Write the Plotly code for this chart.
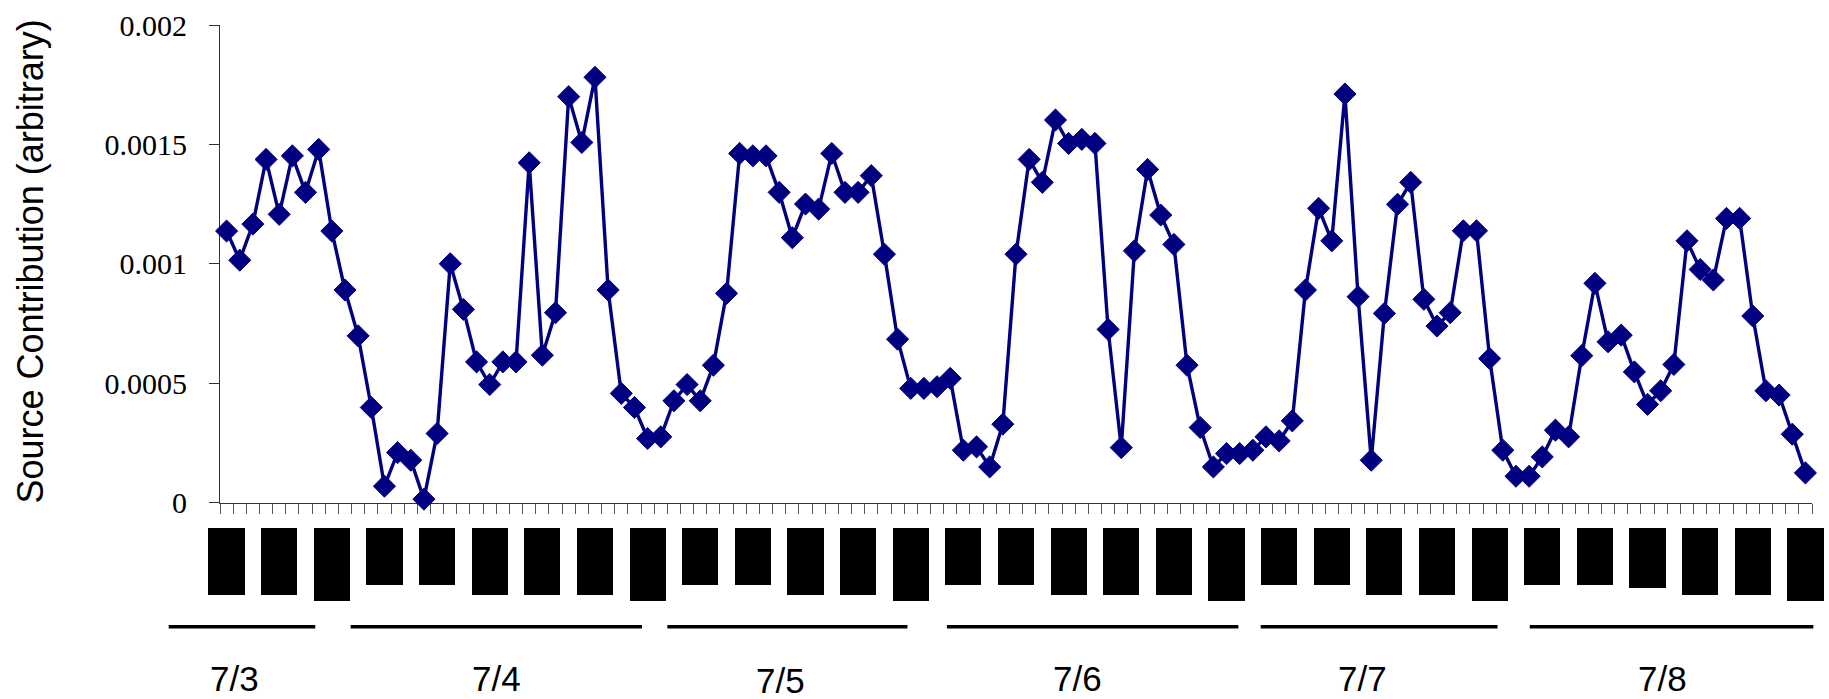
import plotly.graph_objects as go

# ---------------- data ----------------
sample_idx = list(range(121))
contribution = [
    0.001137, 0.001015, 0.001166, 0.001437, 0.001207, 0.001452, 0.001299, 0.001479,
    0.001137, 0.000890, 0.000698, 0.000398, 0.0000684, 0.000209, 0.000177, 0.000014,
    0.000289, 0.001000, 0.000809, 0.000589, 0.000494, 0.000589, 0.000589, 0.001423,
    0.000617, 0.000795, 0.001700, 0.001508, 0.001781, 0.000890, 0.000457, 0.000398,
    0.000268, 0.000275, 0.000426, 0.000494, 0.000426,
    0.000575, 0.000876, 0.001462, 0.001452, 0.001452, 0.001299, 0.001109, 0.001250,
    0.001229, 0.001462, 0.001299, 0.001299, 0.001369, 0.001040, 0.000684, 0.000478,
    0.000478, 0.000485, 0.000520, 0.000219, 0.000233, 0.000149, 0.000328, 0.001040,
    0.001437, 0.001341, 0.001602, 0.001504, 0.001521, 0.001504, 0.000725, 0.000230,
    0.001054, 0.001395, 0.001204, 0.001081, 0.000575, 0.000314, 0.000149, 0.000205,
    0.000205, 0.000219,
    0.000275, 0.000258, 0.000342, 0.000890, 0.001232, 0.001096, 0.001711, 0.000862,
    0.000177, 0.000792, 0.001249, 0.001341, 0.000851, 0.000739, 0.000795, 0.001138,
    0.001138, 0.000603, 0.000219, 0.000110, 0.000110, 0.000191, 0.000303, 0.000275,
    0.000615, 0.000918, 0.000673, 0.000701, 0.000547, 0.000411, 0.000468, 0.000578,
    0.001096, 0.000976, 0.000932, 0.001190, 0.001190, 0.000781, 0.000468, 0.000450,
    0.000286, 0.000124,
]

# sampling-period blocks (centred on every 4th sample) and their lengths
block_pos = [0, 4, 8, 12, 16, 20, 24, 28, 32, 36, 40, 44, 48, 52, 56, 60,
             64, 68, 72, 76, 80, 84, 88, 92, 96, 100, 104, 108, 112, 116, 120]
block_len = [6.7, 6.7, 7.3,
             5.7, 5.7, 6.7, 6.7, 6.7, 7.3,
             5.7, 5.7, 6.7, 6.7, 7.3,
             5.7, 5.7, 6.7, 6.7, 6.7, 7.3,
             5.7, 5.7, 6.7, 6.7, 7.3,
             5.7, 5.7, 6.0, 6.7, 6.7, 7.3]

# day spans (in sample units) and labels
day_labels = ["7/3", "7/4", "7/5", "7/6", "7/7", "7/8"]
day_start = [-4.4, 9.43, 33.5, 54.75, 78.6, 99.05]
day_end = [6.74, 31.57, 51.75, 76.9, 96.6, 120.6]
day_label_x = [0.6, 20.5, 42.1, 64.7, 86.3, 109.1]

y_ticks = [0, 0.0005, 0.001, 0.0015, 0.002]
y_tick_text = ["0", "0.0005", "0.001", "0.0015", "0.002"]

# ---------------- layout geometry ----------------
W, H = 1829, 699
plot_left, plot_right = 220, 1812          # px of main x axis
plot_top, plot_bottom = 25, 502.5          # px of main y axis
n = len(sample_idx)
catw = (plot_right - plot_left) / n
x2_range = [-0.5 - plot_left / catw, -0.5 + (W - plot_left) / catw]

block_top_px = 528
y2_px_per_unit = 10.0
y2_range = [(H - block_top_px) / y2_px_per_unit, 0]
day_line_y = (626.7 - block_top_px) / y2_px_per_unit
label_y = [(678 - block_top_px) / y2_px_per_unit] * len(day_labels)
label_y[2] = (680.5 - block_top_px) / y2_px_per_unit

NAVY = "#000080"

fig = go.Figure()

fig.add_trace(go.Scatter(
    x=sample_idx, y=contribution, mode="lines+markers",
    line=dict(color=NAVY, width=3.4),
    marker=dict(symbol="diamond", size=17, color=NAVY, line=dict(color=NAVY, width=1)),
    cliponaxis=False, showlegend=False, xaxis="x", yaxis="y",
))

fig.add_trace(go.Bar(
    x=block_pos, y=block_len, base=0, width=2.75,
    marker=dict(color="black", line=dict(width=0)),
    showlegend=False, xaxis="x2", yaxis="y2",
))

lx, ly = [], []
for s, e in zip(day_start, day_end):
    lx += [s, e, None]
    ly += [day_line_y, day_line_y, None]
fig.add_trace(go.Scatter(
    x=lx, y=ly, mode="lines", line=dict(color="black", width=3.5),
    cliponaxis=False, showlegend=False, xaxis="x2", yaxis="y2",
))

for lab, xx, yy in zip(day_labels, day_label_x, label_y):
    fig.add_annotation(
        x=xx, y=yy, xref="x2", yref="y2", text=lab, showarrow=False,
        xanchor="center", yanchor="middle",
        font=dict(family="Liberation Sans, Arial", size=35, color="black"),
    )

fig.add_annotation(
    x=30 / W, y=1 - 261.5 / H, xref="paper", yref="paper",
    text="Source Contribution (arbitrary)", showarrow=False, textangle=-90,
    xanchor="center", yanchor="middle",
    font=dict(family="Liberation Sans, Arial", size=36, color="black"),
)

fig.update_layout(
    width=W, height=H, autosize=False,
    margin=dict(l=0, r=0, t=0, b=0, pad=0, autoexpand=False),
    paper_bgcolor="white", plot_bgcolor="white",
    bargap=0,
    xaxis=dict(
        domain=[plot_left / W, plot_right / W], anchor="y", automargin=False,
        range=[-0.5, n - 0.5], tickmode="linear", tick0=-0.5, dtick=1,
        showticklabels=False, ticks="outside", ticklen=10, tickwidth=1,
        tickcolor="#555555", showline=True, linecolor="#333333", linewidth=1,
        showgrid=False, zeroline=False, layer="below traces", fixedrange=True,
    ),
    yaxis=dict(
        domain=[1 - plot_bottom / H, 1 - plot_top / H], anchor="x", automargin=False,
        range=[0, 0.002], tickvals=y_ticks, ticktext=y_tick_text,
        ticks="outside", ticklen=10, tickwidth=1, tickcolor="#333333",
        showline=True, linecolor="#333333", linewidth=1,
        showgrid=False, zeroline=False, ticklabelstandoff=16,
        tickfont=dict(family="Liberation Serif, Times New Roman", size=30, color="black"),
        layer="below traces",
    ),
    xaxis2=dict(domain=[0, 1], anchor="y2", range=x2_range, visible=False, automargin=False),
    yaxis2=dict(domain=[0, 1 - block_top_px / H], anchor="x2", range=y2_range,
                visible=False, automargin=False),
)

fig.write_html("out.html")
